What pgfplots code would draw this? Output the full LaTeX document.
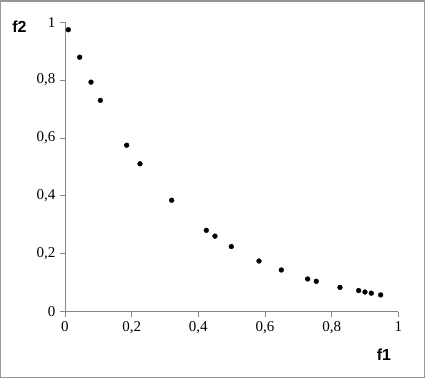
\documentclass[border=0pt]{standalone}
\usepackage{fontspec}
\setmainfont{Liberation Serif}
\newfontfamily\arialf{Liberation Sans}
\usepackage{pgfplots}
\pgfplotsset{compat=1.18}
\definecolor{axgray}{RGB}{134,134,134}
\definecolor{bordergray}{RGB}{150,150,150}
\begin{document}
\begin{tikzpicture}
\begin{axis}[
  scale only axis,
  width=333.3bp, height=289.5bp,
  at={(0,0)}, anchor=south west,
  xmin=0, xmax=1, ymin=0, ymax=1,
  axis x line=bottom, axis y line=left,
  axis line style={-, axgray, line width=0.9bp},
  xtick={0,0.2,0.4,0.6,0.8,1},
  ytick={0,0.2,0.4,0.6,0.8,1},
  /pgf/number format/.cd, use comma, assume math mode=true, fixed, precision=1,
  /pgfplots/.cd,
  tick align=outside,
  major tick length=5bp,
  tick style={axgray, line width=0.9bp},
  tick label style={font=\fontsize{15bp}{17bp}\selectfont, text=black},
  xticklabel style={yshift=-1bp},
  yticklabel style={xshift=-1bp},
  clip=false,
]
\addplot[only marks, mark=*, mark size=2.4bp, black] coordinates {
(0.010,0.974) (0.044,0.879) (0.078,0.793) (0.106,0.730) (0.185,0.575)
(0.225,0.511) (0.320,0.385) (0.424,0.281) (0.450,0.261) (0.499,0.225)
(0.582,0.175) (0.649,0.144) (0.728,0.113) (0.754,0.105) (0.825,0.084)
(0.881,0.073) (0.900,0.068) (0.919,0.064) (0.947,0.058)
};
\node[font=\arialf\bfseries\fontsize{16bp}{18bp}\selectfont] at (rel axis cs:0.957,-0.150) {f1};
\node[font=\arialf\bfseries\fontsize{16bp}{18bp}\selectfont] at (rel axis cs:-0.1365,0.985) {f2};
\end{axis}
\draw[bordergray, line width=1.2bp] (-64.4bp,-65.8bp) rectangle (359.5bp,310.7bp);
\useasboundingbox (-65bp,-70.3bp) rectangle (362bp,311.7bp);
\end{tikzpicture}
\end{document}
